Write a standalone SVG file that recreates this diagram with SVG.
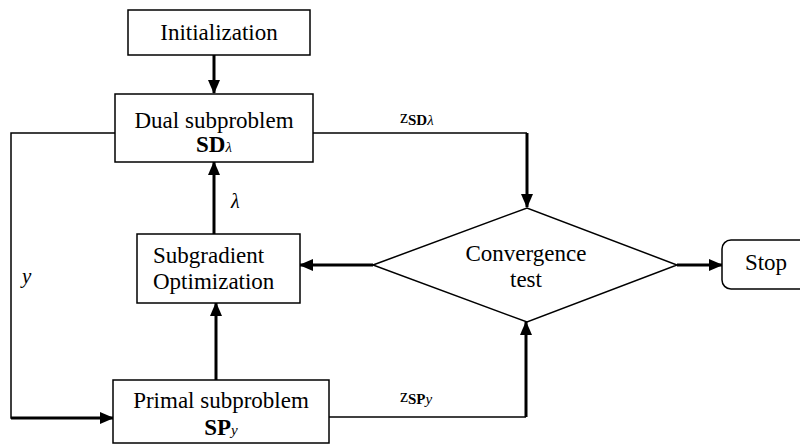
<svg xmlns="http://www.w3.org/2000/svg" width="800" height="444" viewBox="0 0 800 444">
<defs>
<style>
.box{fill:#fff;stroke:#000;stroke-width:1.5}
text{font-family:'Liberation Serif','Times New Roman',serif;fill:#000}
.t{font-size:23px}
.c{text-anchor:middle}
.thin{fill:none;stroke:#000;stroke-width:1.5}
.thick{fill:none;stroke:#000;stroke-width:3}
</style>
<marker id="ah" markerUnits="userSpaceOnUse" markerWidth="14" markerHeight="14" viewBox="0 0 14 14" refX="13" refY="7" orient="auto">
<path d="M0,1 L14,7 L0,13 Z" fill="#000"/>
</marker>
</defs>
<rect width="800" height="444" fill="#fff"/>
<g id="connectors">
<path class="thick" d="M214,55 L214,93" marker-end="url(#ah)"/>
<path class="thin" d="M115,133 L11,133 L11,418 L30,418"/>
<path class="thick" d="M11,418 L113,418" marker-end="url(#ah)"/>
<path class="thin" d="M313,133 L527,133"/>
<path class="thick" d="M527,133 L527,207" marker-end="url(#ah)"/>
<path class="thick" d="M214,234 L214,162" marker-end="url(#ah)"/>
<path class="thick" d="M216,380 L216,303" marker-end="url(#ah)"/>
<path class="thin" d="M329,417 L526,417"/>
<path class="thick" d="M526,417 L526,322" marker-end="url(#ah)"/>
<path class="thick" d="M373,265 L300,265" marker-end="url(#ah)"/>
<path class="thick" d="M677,265 L722,265" marker-end="url(#ah)"/>
<text x="400" y="123" font-size="18">z<tspan font-weight="bold" font-size="15" dy="2">SD</tspan><tspan font-style="italic" font-size="15">λ</tspan></text>
<text x="400" y="402" font-size="18">z<tspan font-weight="bold" font-size="15" dy="2">SP</tspan><tspan font-style="italic" font-size="15">y</tspan></text>
<text x="231" y="208" font-size="20" font-style="italic">λ</text>
<text x="22" y="283" font-size="21" font-style="italic">y</text>
</g>
<g id="init">
<rect class="box" x="128" y="10" width="182" height="45"/>
<text class="t c" x="219" y="40">Initialization</text>
</g>
<g id="dual">
<rect class="box" x="115" y="94" width="198" height="68"/>
<text class="t c" x="214" y="128">Dual subproblem</text>
<text class="t c" x="214" y="152"><tspan font-weight="bold">SD</tspan><tspan font-style="italic" font-size="15">λ</tspan></text>
</g>
<g id="subgradient">
<rect class="box" x="137" y="234" width="163" height="69"/>
<text class="t" x="153" y="263">Subgradient</text>
<text class="t" x="153" y="289">Optimization</text>
</g>
<g id="primal">
<rect class="box" x="113" y="380" width="216" height="63"/>
<text class="t c" x="221" y="408">Primal subproblem</text>
<text class="t c" x="221" y="435"><tspan font-weight="bold">SP</tspan><tspan font-style="italic" font-size="15">y</tspan></text>
</g>
<g id="convergence">
<polygon class="box" points="373,265 527,208 677,265 527,322"/>
<text class="t c" x="526" y="261">Convergence</text>
<text class="t c" x="526" y="287">test</text>
</g>
<g id="stop">
<rect class="box" x="722" y="240" width="90" height="49" rx="9"/>
<text class="t c" x="766" y="270">Stop</text>
</g>
</svg>
